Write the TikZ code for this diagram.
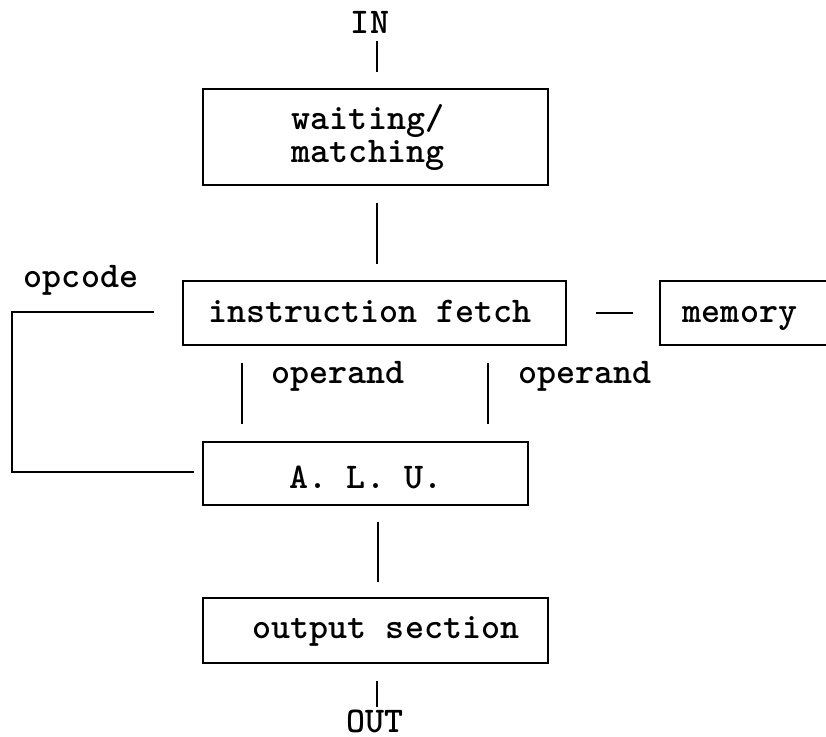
\documentclass[tikz,border=0pt]{standalone}
\usepackage{fontspec}
\setmonofont{Latin Modern Mono Light}
\usetikzlibrary{calc}
\begin{document}
\begin{tikzpicture}[x=0.5pt,y=-0.5pt,
  box/.style={draw, line width=1.2pt, inner sep=0pt},
  txt/.style={font=\ttfamily\bfseries\fontsize{18.1}{18}\selectfont, inner sep=0pt, anchor=base},
  conn/.style={line width=1.2pt}]
\useasboundingbox (0,0) rectangle (826,736);
\clip (0,0) rectangle (826,736);
% boxes
\node[box, minimum width=172.5pt, minimum height=48pt] (wait) at (375.5,137) {};
\node[box, minimum width=191.5pt, minimum height=32pt] (fetch) at (374.5,313) {};
\node[box, minimum width=95pt, minimum height=32pt] (mem) at (755,313) {};
\node[box, minimum width=162.5pt, minimum height=31.5pt] (alu) at (365.5,473.5) {};
\node[box, minimum width=172.5pt, minimum height=32.5pt] (outp) at (375.5,630.5) {};
% texts
\node[txt] (in) at (370,33) {IN};
\node[txt] (waitA) at (368,129) {waiting/};
\node[txt] (waitB) at (368,162) {matching};
\node[txt] (fetchtxt) at (370,322) {instruction fetch};
\node[txt] (memtxt) at (740,322) {memory};
\node[txt] (opc) at (81,287) {opcode};
\node[txt] (op1) at (338,383) {operand};
\node[txt] (op2) at (585,383) {operand};
\node[txt] (alutxt) at (366,488) {A. L. U.};
\node[txt] (outtxt) at (386,638) {output section};
\node[txt] (out) at (375,732) {OUT};
% connectors
\coordinate (oc) at (12,472);
\draw[conn] ($(wait.north)+(1.5,-47)$) -- ($(wait.north)+(1.5,-16)$);
\draw[conn] ($(wait.south)+(1.5,17)$) -- ($(fetch.north)+(2.5,-16)$);
\draw[conn] ($(fetch.east)+(29,0)$) -- ($(mem.west)+(-26,0)$);
\draw[conn] ($(fetch.west)+(-28,-1)$) -| (oc) -- ($(alu.west)+(-8,-1.5)$);
\draw[conn] ($(fetch.south)+(-132.5,17)$) -- ($(alu.north)+(-123.5,-17)$);
\draw[conn] ($(fetch.south)+(113.5,17)$) -- ($(alu.north)+(122.5,-17)$);
\draw[conn] ($(alu.south)+(12.5,16)$) -- ($(outp.north)+(2.5,-15)$);
\draw[conn] ($(outp.south)+(1.5,17)$) -- ($(outp.south)+(1.5,43)$);
\end{tikzpicture}
\end{document}
